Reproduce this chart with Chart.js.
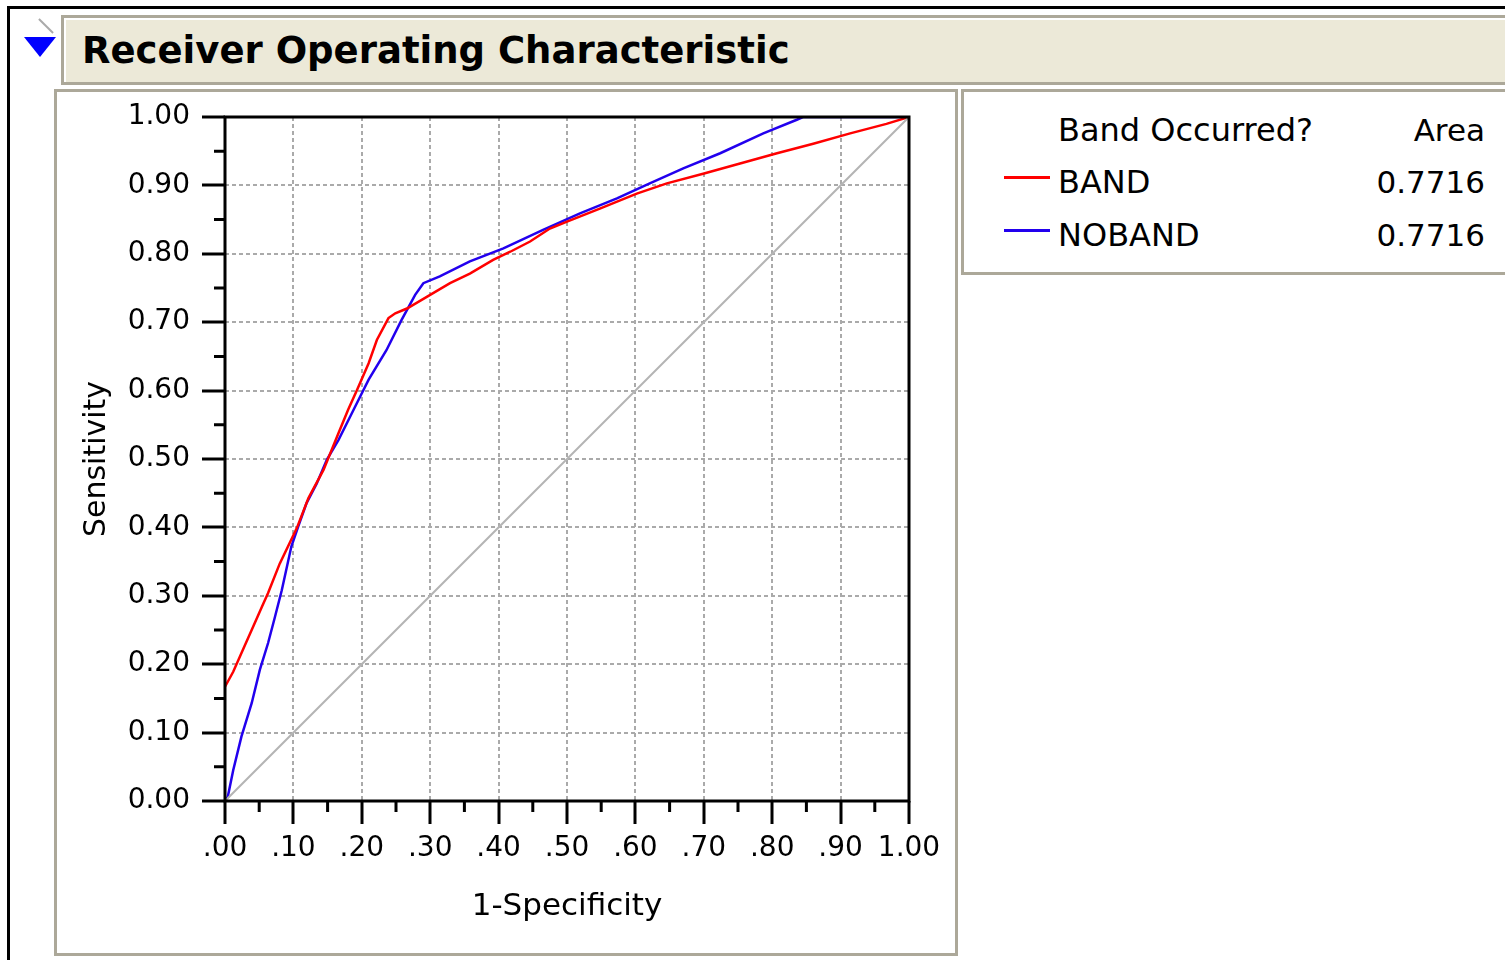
<!DOCTYPE html>
<html>
<head>
<meta charset="utf-8">
<script src="https://cdn.jsdelivr.net/npm/chart.js@4.4.1/dist/chart.umd.min.js"></script>
<style>
  body { margin: 0; background: #fff; width: 1505px; height: 960px; overflow: hidden; position: relative; font-family: "DejaVu Sans", sans-serif; color: #000; }
  #outer { position: absolute; left: 7px; top: 6px; width: 1600px; height: 1000px; border-left: 3px solid #000; border-top: 3px solid #000; }
  #twisty { position: absolute; left: 24px; top: 37px; width: 0; height: 0; border-left: 16px solid transparent; border-right: 16px solid transparent; border-top: 20px solid #0000ff; }
  #connector { position: absolute; left: 36px; top: 25px; width: 20px; height: 2px; background: #aaa; transform: rotate(45deg); }
  #titlebar { position: absolute; left: 61px; top: 15px; width: 1500px; height: 64px; background: #ece9d8; border: 3px solid #aca899; box-shadow: inset 2px 2px 0 #fff; }
  #titlebar span { position: absolute; left: 18px; top: 11px; font: bold 37px "DejaVu Sans", sans-serif; white-space: nowrap; }
  #plotframe { position: absolute; left: 54px; top: 89px; width: 898px; height: 861px; border: 3px solid #aca899; }
  #roc { position: absolute; left: 57px; top: 92px; }
  #legendbox { position: absolute; left: 961px; top: 89px; width: 600px; height: 180px; border: 3px solid #aca899; }
  .lg { position: absolute; font: 32px "DejaVu Sans", sans-serif; height: 40px; line-height: 40px; white-space: nowrap; }
  .num { text-align: right; width: 200px; left: 1285px; font-size: 31px; }
  .swatch { position: absolute; left: 1004px; width: 46px; height: 3px; }
</style>
</head>
<body>
<div id="outer"></div>
<div id="connector"></div>
<div id="twisty"></div>
<div id="titlebar"><span>Receiver Operating Characteristic</span></div>
<div id="plotframe"></div>
<canvas id="roc" width="898" height="861"></canvas>
<div id="legendbox"></div>
<div id="legend"></div>
<script>
// ROC curves: 1-specificity (x) and sensitivity (y)
const bandFpr = [0, 0.012, 0.027, 0.039, 0.054, 0.063, 0.08, 0.105, 0.122, 0.144, 0.166, 0.18, 0.193, 0.21, 0.222, 0.239, 0.249, 0.266, 0.295, 0.329, 0.358, 0.392, 0.417, 0.446, 0.475, 0.5, 0.548, 0.602, 0.646, 0.699, 0.753, 0.807, 0.86, 0.914, 0.967, 1];
const bandTpr = [0.167, 0.189, 0.223, 0.25, 0.284, 0.304, 0.347, 0.399, 0.443, 0.484, 0.538, 0.572, 0.601, 0.64, 0.674, 0.706, 0.713, 0.72, 0.737, 0.757, 0.771, 0.791, 0.803, 0.818, 0.837, 0.847, 0.866, 0.888, 0.903, 0.917, 0.932, 0.947, 0.961, 0.976, 0.99, 1];

const nobandFpr = [0, 0.004, 0.012, 0.024, 0.039, 0.051, 0.063, 0.073, 0.083, 0.097, 0.107, 0.119, 0.134, 0.149, 0.166, 0.188, 0.21, 0.236, 0.258, 0.278, 0.29, 0.314, 0.358, 0.407, 0.465, 0.519, 0.573, 0.621, 0.67, 0.724, 0.787, 0.836, 0.845, 1];
const nobandTpr = [0, 0.006, 0.045, 0.094, 0.143, 0.192, 0.231, 0.269, 0.308, 0.372, 0.401, 0.435, 0.464, 0.499, 0.528, 0.572, 0.616, 0.659, 0.703, 0.74, 0.757, 0.767, 0.789, 0.808, 0.835, 0.859, 0.881, 0.903, 0.925, 0.947, 0.976, 0.996, 1, 1];

const diagX = [0, 1];
const diagY = [0, 1];

const seriesNames = ['BAND', 'NOBAND'];
const seriesColors = ['#ff0000', '#2200ee'];
const seriesAreas = ['0.7716', '0.7716'];

const tickValues = [0, 0.1, 0.2, 0.3, 0.4, 0.5, 0.6, 0.7, 0.8, 0.9, 1];
const minorTicks = [0.05, 0.15, 0.25, 0.35, 0.45, 0.55, 0.65, 0.75, 0.85, 0.95];
const xTickLabels = ['.00', '.10', '.20', '.30', '.40', '.50', '.60', '.70', '.80', '.90', '1.00'];
const yTickLabels = ['0.00', '0.10', '0.20', '0.30', '0.40', '0.50', '0.60', '0.70', '0.80', '0.90', '1.00'];

const toPoints = (xs, ys) => xs.map((v, i) => ({x: v, y: ys[i]}));

// ********************* legend ***********************
let legendHtml = '<div class="lg" style="left:1058px;top:110px">Band Occurred?</div>' +
  '<div class="lg num" style="top:110px">Area</div>';
seriesNames.forEach((name, i) => {
  const top = 162 + i * 53;
  legendHtml += '<div class="swatch" style="top:' + (top + 14) + 'px;background:' + seriesColors[i] + '"></div>' +
    '<div class="lg" style="left:1058px;top:' + top + 'px">' + name + '</div>' +
    '<div class="lg num" style="top:' + top + 'px">' + seriesAreas[i] + '</div>';
});
document.getElementById('legend').innerHTML = legendHtml;

// ********************* frame + minor ticks ***********************
const frameAndMinorTicks = {
  id: 'frameAndMinorTicks',
  afterDatasetsDraw(chart) {
    const {ctx, chartArea: a, scales: {x, y}} = chart;
    ctx.save();
    ctx.strokeStyle = '#000';
    ctx.lineWidth = 3;
    ctx.strokeRect(a.left, a.top, a.right - a.left, a.bottom - a.top);
    ctx.beginPath();
    minorTicks.forEach(v => {
      const px = x.getPixelForValue(v);
      ctx.moveTo(px, a.bottom);
      ctx.lineTo(px, a.bottom + 11);
      const py = y.getPixelForValue(v);
      ctx.moveTo(a.left, py);
      ctx.lineTo(a.left - 11, py);
    });
    ctx.stroke();
    ctx.restore();
  }
};

const gridOpts = {
  color: '#aaaaaa',
  lineWidth: 2,
  tickColor: '#000',
  tickWidth: 3,
  tickLength: 23,
  tickBorderDash: []
};
// in v4 the grid line dash comes from border.dash
const borderOpts = {display: false, dash: [4, 3]};

const rocConfig = {
  type: 'line',
  data: {
    datasets: [{
      label: 'diagonal',
      data: toPoints(diagX, diagY),
      borderColor: '#b4b4b4',
      borderWidth: 2,
      pointRadius: 0
    }, {
      label: seriesNames[0],
      data: toPoints(bandFpr, bandTpr),
      borderColor: seriesColors[0],
      borderWidth: 2.5,
      pointRadius: 0
    }, {
      label: seriesNames[1],
      data: toPoints(nobandFpr, nobandTpr),
      borderColor: seriesColors[1],
      borderWidth: 2.5,
      pointRadius: 0
    }]
  },
  options: {
    responsive: false,
    animation: false,
    devicePixelRatio: 1,
    layout: {padding: {left: 0, top: 25, right: 46, bottom: 0}},
    plugins: {legend: {display: false}, tooltip: {enabled: false}},
    scales: {
      x: {
        type: 'linear', min: 0, max: 1,
        afterBuildTicks: s => { s.ticks = tickValues.map(v => ({value: v})); },
        afterFit: s => { s.height = 152; },
        border: borderOpts,
        grid: gridOpts,
        ticks: {
          color: '#000', padding: 8,
          font: {family: 'DejaVu Sans', size: 28},
          maxRotation: 0, autoSkip: false,
          callback: (v, i) => xTickLabels[i]
        },
        title: {
          display: true, text: '1-Specificity', color: '#000',
          font: {family: 'DejaVu Sans', size: 31},
          padding: {top: 0, bottom: 27}
        }
      },
      y: {
        type: 'linear', min: 0, max: 1,
        afterBuildTicks: s => { s.ticks = tickValues.map(v => ({value: v})); },
        afterFit: s => { s.width = 168; s.paddingTop = 0; s.paddingBottom = 0; },
        border: borderOpts,
        grid: gridOpts,
        ticks: {
          color: '#000', padding: 12,
          font: {family: 'DejaVu Sans', size: 28},
          autoSkip: false,
          callback: (v, i) => yTickLabels[i]
        },
        title: {
          display: true, text: 'Sensitivity', color: '#000',
          font: {family: 'DejaVu Sans', size: 30},
          padding: {top: 22, bottom: 0}
        }
      }
    }
  },
  plugins: [frameAndMinorTicks]
};

const roc = new Chart(document.getElementById('roc'), rocConfig);
</script>
</body>
</html>
